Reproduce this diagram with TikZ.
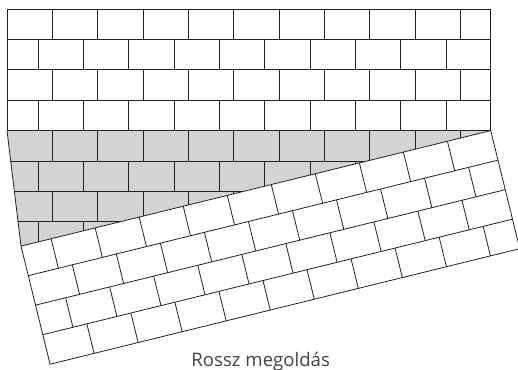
\documentclass[tikz,border=0pt]{standalone}
\usepackage{fontspec}
\setmainfont{Open Sans}
\usepackage{xcolor}
\definecolor{gapgray}{RGB}{209,211,212}
\definecolor{jointblack}{RGB}{35,31,32}

\newcommand{\brickw}{45.35}
\newcommand{\brickh}{30.4}
\newcommand{\wallw}{483.7}
\newcommand{\tilt}{13.82}

\tikzset{
  joint/.style={draw=jointblack, line width=0.8pt},
  caption/.style={anchor=base, text=jointblack!85, font=\fontsize{18.6}{22}\selectfont},
}

\begin{document}
\begin{tikzpicture}[x=1pt,y=1pt]

\useasboundingbox (-7,-238.4) rectangle (511,130.6);

% the corner of the wall the lower part is turned around
\coordinate (pivot) at (\wallw,0);
\begin{scope}[rotate around={\tilt:(pivot)}]
  \coordinate (corner) at (0,0);
\end{scope}

%% the upper part of the wall, it stays in place
\foreach \ybot/\shift in {91.2/0, 60.8/-14.35, 30.4/0, 0/-14.35}
  \foreach \k in {1,...,10}
    \draw[joint] ({\shift+\k*\brickw},\ybot) -- ++(0,\brickh);
\foreach \y in {30.4,60.8,91.2}
  \draw[joint] (0,\y) -- (\wallw,\y);
\draw[joint] (0,0) rectangle (\wallw,121.6);

%% the gap that is left open, gray
\begin{scope}
  \clip (0,0) -- (pivot) -- (corner) -- cycle;
  \fill[gapgray] (0,-121.6) rectangle (\wallw,0);
  \foreach \ybot/\shift in {-30.4/0, -60.8/-14.35, -91.2/0, -121.6/-14.35}
    \foreach \k in {1,...,10}
      \draw[joint] ({\shift+\k*\brickw},\ybot) -- ++(0,\brickh);
  \foreach \y in {-30.4,-60.8,-91.2}
    \draw[joint] (0,\y) -- (\wallw,\y);
\end{scope}
\draw[joint] (0,0) -- (corner);

%% the lower part of the wall, turned
\begin{scope}[rotate around={\tilt:(pivot)}]
  \filldraw[joint, fill=white] (0,-121.6) rectangle (\wallw,0);
  \foreach \ybot/\shift in {-30.4/-14.35, -60.8/0, -91.2/-14.35, -121.6/0}
    \foreach \k in {1,...,10}
      \draw[joint] ({\shift+\k*\brickw},\ybot) -- ++(0,\brickh);
  \foreach \y in {-30.4,-60.8,-91.2}
    \draw[joint] (0,\y) -- (\wallw,\y);
\end{scope}

% we add the label
\node[caption] (label) at (253.7,-235.4) {Rossz megoldás};

\end{tikzpicture}
\end{document}
